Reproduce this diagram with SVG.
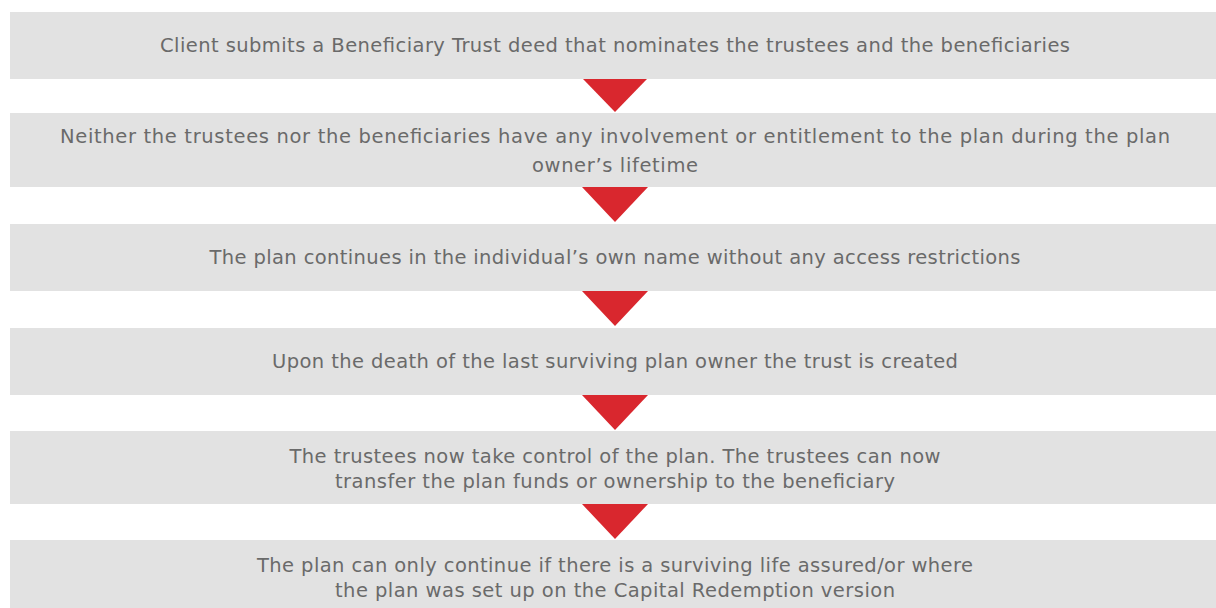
<svg xmlns="http://www.w3.org/2000/svg" width="1216" height="608" viewBox="0 0 1216 608">
<style>
.box{fill:#e2e2e2}
.arr{fill:#d9272e}
text{font-family:"DejaVu Sans","Liberation Sans",sans-serif;font-size:19.5px;fill:#6a6a6a;text-anchor:middle}
</style>
<rect width="1216" height="608" fill="#ffffff"/>
<g id="node1"><rect class="box" x="10" y="12" width="1206" height="67"/>
<text x="615" y="52" textLength="910">Client submits a Beneficiary Trust deed that nominates the trustees and the beneficiaries</text></g>
<g id="node2"><rect class="box" x="10" y="113" width="1206" height="74"/>
<text x="615" y="143" textLength="1110">Neither the trustees nor the beneficiaries have any involvement or entitlement to the plan during the plan</text>
<text x="615" y="172" textLength="166">owner’s lifetime</text></g>
<g id="node3"><rect class="box" x="10" y="224" width="1206" height="67"/>
<text x="615" y="264" textLength="811">The plan continues in the individual’s own name without any access restrictions</text></g>
<g id="node4"><rect class="box" x="10" y="328" width="1206" height="67"/>
<text x="615" y="368" textLength="686">Upon the death of the last surviving plan owner the trust is created</text></g>
<g id="node5"><rect class="box" x="10" y="431" width="1206" height="73"/>
<text x="615" y="463" textLength="651">The trustees now take control of the plan. The trustees can now</text>
<text x="615" y="488" textLength="560">transfer the plan funds or ownership to the beneficiary</text></g>
<g id="node6"><rect class="box" x="10" y="540" width="1206" height="68"/>
<text x="615" y="572" textLength="716">The plan can only continue if there is a surviving life assured/or where</text>
<text x="615" y="597" textLength="560">the plan was set up on the Capital Redemption version</text></g>
<g id="connectors">
<polygon class="arr" points="583,79 647,79 615,112"/>
<polygon class="arr" points="582,187 648,187 615,222"/>
<polygon class="arr" points="582,291 648,291 615,326"/>
<polygon class="arr" points="582,395 648,395 615,430"/>
<polygon class="arr" points="582,504 648,504 615,539"/>
</g>
</svg>
